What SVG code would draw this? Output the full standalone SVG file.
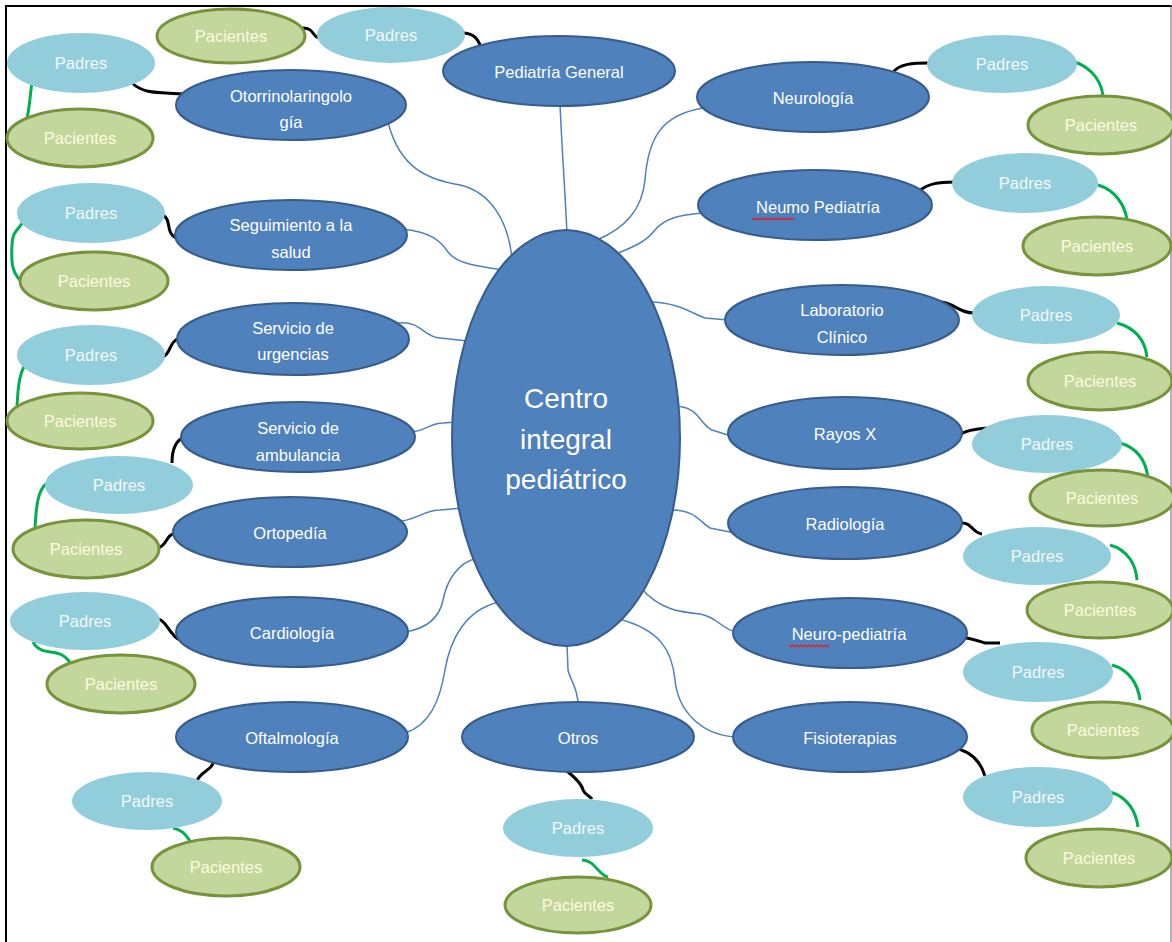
<svg xmlns="http://www.w3.org/2000/svg" width="1172" height="942" viewBox="0 0 1172 942">
<defs>
<style>
.svc{fill:#4F81BD;stroke:#385D8A;stroke-width:2}
.pad{fill:#92CDDC;stroke:none}
.pac{fill:#C3D69B;stroke:#77933C;stroke-width:3}
.t{font-family:"Liberation Sans",Arial,sans-serif;text-anchor:middle}
.ts{font-size:16.5px;fill:#FFFFFF}
.tp{font-size:16.5px;fill:#F4F8F8}
.tc{font-size:16.5px;fill:#FCFBE0}
.tm{font-size:28px;fill:#FFFFFF}
.cb{fill:none;stroke:#4F81BD;stroke-width:1.5}
.ck{fill:none;stroke:#000000;stroke-width:3}
.cg{fill:none;stroke:#00B050;stroke-width:3}
.sp{fill:none;stroke:#E02020;stroke-width:1.2}
</style>
</defs>
<rect x="0" y="0" width="1172" height="942" fill="#FFFFFF"/>
<g id="frame">
<line x1="5" y1="6" x2="1172" y2="6" stroke="#000" stroke-width="2"/>
<line x1="6" y1="5" x2="6" y2="942" stroke="#000" stroke-width="2"/>
<line x1="1171" y1="5" x2="1171" y2="942" stroke="#666" stroke-width="1"/>
</g>
<g id="connectors">
<path class="cb" d="M560,104 C562,150 565,190 567,234"/>
<path class="cb" d="M388,122 C400,170 430,180 460,185 C490,192 508,220 512,258"/>
<path class="cb" d="M402,229 C430,232 440,240 448,252 C458,265 480,266 503,270"/>
<path class="cb" d="M398,323 C420,320 425,338 440,338 L468,341"/>
<path class="cb" d="M412,432 C428,430 430,423 443,423 L457,422"/>
<path class="cb" d="M402,521 C420,518 425,510 440,510 L463,508"/>
<path class="cb" d="M405,632 C430,628 440,615 443,600 C447,580 458,562 478,558"/>
<path class="cb" d="M405,733 C430,725 440,700 445,670 C450,640 465,610 499,602"/>
<path class="cb" d="M578,704 C578,688 570,680 568,670 L567,644"/>
<path class="cb" d="M703,108 C660,115 648,140 645,180 C642,210 625,228 597,240"/>
<path class="cb" d="M702,213 C680,215 665,218 655,230 C645,243 630,248 616,254"/>
<path class="cb" d="M650,302 C675,302 690,312 705,318 L728,320"/>
<path class="cb" d="M677,406 C700,408 700,425 712,430 L731,436"/>
<path class="cb" d="M672,510 C695,510 700,522 710,528 L735,533"/>
<path class="cb" d="M641,588 C660,610 680,612 700,614 C718,617 722,630 737,632"/>
<path class="cb" d="M619,619 C660,630 672,650 675,680 C678,710 700,735 736,737"/>
<path class="ck" d="M462,33 C475,33 478,40 481,47"/>
<path class="ck" d="M303,28 C315,28 312,38 320,38"/>
<path class="ck" d="M132,83 C145,95 160,92 185,94"/>
<path class="ck" d="M163,215 C172,220 165,232 176,238"/>
<path class="ck" d="M163,357 C172,352 168,343 179,338"/>
<path class="ck" d="M172,463 C172,450 175,440 185,437"/>
<path class="ck" d="M158,548 C168,545 165,535 176,533"/>
<path class="ck" d="M153,618 C165,618 168,630 172,633 C175,638 178,640 184,641"/>
<path class="ck" d="M214,760 C212,772 200,770 196,783"/>
<path class="ck" d="M567,771 C578,780 582,785 583,790 C585,795 590,796 592,799"/>
<path class="ck" d="M892,74 C898,63 915,63 929,63"/>
<path class="ck" d="M918,192 C928,183 940,182 954,182"/>
<path class="ck" d="M941,302 C955,303 958,313 974,313"/>
<path class="ck" d="M954,438 C965,430 975,429 989,428"/>
<path class="ck" d="M961,523 C972,522 972,533 982,534"/>
<path class="ck" d="M955,638 C965,636 975,640 985,643 L1000,643"/>
<path class="ck" d="M952,748 C970,750 980,760 985,776"/>
<path class="cg" d="M32,82 C30,95 30,105 27,118"/>
<path class="cg" d="M23,222 C18,230 12,232 12,245 C11,262 12,272 20,280"/>
<path class="cg" d="M28,362 C20,368 18,385 17,407"/>
<path class="cg" d="M47,483 C38,490 36,505 35,530"/>
<path class="cg" d="M33,642 C40,655 55,650 62,655 C66,657 68,660 70,662"/>
<path class="cg" d="M173,828 C185,830 188,840 192,843 C195,846 198,847 202,847"/>
<path class="cg" d="M582,860 C595,860 598,875 608,877"/>
<path class="cg" d="M1075,62 C1092,68 1102,82 1103,97"/>
<path class="cg" d="M1098,185 C1115,190 1125,205 1127,220"/>
<path class="cg" d="M1117,323 C1135,328 1145,340 1147,357"/>
<path class="cg" d="M1120,443 C1138,448 1146,462 1148,478"/>
<path class="cg" d="M1110,545 C1128,550 1136,565 1137,580"/>
<path class="cg" d="M1112,665 C1130,670 1138,685 1140,700"/>
<path class="cg" d="M1110,792 C1128,797 1136,812 1138,827"/>
</g>
<g id="centro">
<ellipse class="svc" cx="566" cy="438" rx="114" ry="208"/>
<text class="t tm" x="566" y="408">Centro</text>
<text class="t tm" x="566" y="449">integral</text>
<text class="t tm" x="566" y="489">pediátrico</text>
</g>
<g id="pediatria-general"><ellipse class="svc" cx="559" cy="71" rx="116" ry="35"/><text class="t ts" x="559" y="78">Pediatría General</text></g>
<g id="otorrino"><ellipse class="svc" cx="291" cy="105" rx="115" ry="35"/><text class="t ts" x="291" y="102">Otorrinolaringolo</text><text class="t ts" x="291" y="128">gía</text></g>
<g id="seguimiento"><ellipse class="svc" cx="291" cy="235" rx="116" ry="35"/><text class="t ts" x="291" y="231">Seguimiento  a la</text><text class="t ts" x="291" y="258">salud</text></g>
<g id="urgencias"><ellipse class="svc" cx="293" cy="339" rx="116" ry="36"/><text class="t ts" x="293" y="334">Servicio de</text><text class="t ts" x="293" y="360">urgencias</text></g>
<g id="ambulancia"><ellipse class="svc" cx="298" cy="437" rx="117" ry="35"/><text class="t ts" x="298" y="434">Servicio de</text><text class="t ts" x="298" y="461">ambulancia</text></g>
<g id="ortopedia"><ellipse class="svc" cx="290" cy="532" rx="117" ry="35"/><text class="t ts" x="290" y="539">Ortopedía</text></g>
<g id="cardiologia"><ellipse class="svc" cx="292" cy="632" rx="116" ry="35"/><text class="t ts" x="292" y="639">Cardiología</text></g>
<g id="oftalmologia"><ellipse class="svc" cx="292" cy="737" rx="116" ry="35"/><text class="t ts" x="292" y="744">Oftalmología</text></g>
<g id="otros"><ellipse class="svc" cx="578" cy="737" rx="116" ry="35"/><text class="t ts" x="578" y="744">Otros</text></g>
<g id="neurologia"><ellipse class="svc" cx="813" cy="97" rx="116" ry="35"/><text class="t ts" x="813" y="104">Neurología</text></g>
<g id="neumo"><ellipse class="svc" cx="815" cy="205" rx="117" ry="35"/><text class="t ts" x="818" y="213">Neumo  Pediatría</text><path class="sp" d="M752,218 l2,2 l2,-2 l2,2 l2,-2 l2,2 l2,-2 l2,2 l2,-2 l2,2 l2,-2 l2,2 l2,-2 l2,2 l2,-2 l2,2 l2,-2 l2,2 l2,-2 l2,2 l2,-2 l2,2"/></g>
<g id="laboratorio"><ellipse class="svc" cx="842" cy="320" rx="117" ry="35"/><text class="t ts" x="842" y="316">Laboratorio</text><text class="t ts" x="842" y="343">Clínico</text></g>
<g id="rayos"><ellipse class="svc" cx="845" cy="433" rx="117" ry="36"/><text class="t ts" x="845" y="440">Rayos X</text></g>
<g id="radiologia"><ellipse class="svc" cx="845" cy="523" rx="117" ry="36"/><text class="t ts" x="845" y="530">Radiología</text></g>
<g id="neuropediatria"><ellipse class="svc" cx="850" cy="633" rx="117" ry="35"/><text class="t ts" x="849" y="640">Neuro-pediatría</text><path class="sp" d="M789,645 l2,2 l2,-2 l2,2 l2,-2 l2,2 l2,-2 l2,2 l2,-2 l2,2 l2,-2 l2,2 l2,-2 l2,2 l2,-2 l2,2 l2,-2 l2,2 l2,-2 l2,2 l2,-2"/></g>
<g id="fisioterapias"><ellipse class="svc" cx="850" cy="737" rx="117" ry="35"/><text class="t ts" x="850" y="744">Fisioterapias</text></g>
<g id="padres-pg"><ellipse class="pad" cx="391" cy="35" rx="74" ry="28"/><text class="t tp" x="391" y="41">Padres</text></g>
<g id="pacientes-pg"><ellipse class="pac" cx="231" cy="36" rx="74" ry="27"/><text class="t tc" x="231" y="42">Pacientes</text></g>
<g id="padres-oto"><ellipse class="pad" cx="81" cy="63" rx="74" ry="30"/><text class="t tp" x="81" y="69">Padres</text></g>
<g id="pacientes-oto"><ellipse class="pac" cx="80" cy="138" rx="73" ry="29"/><text class="t tc" x="80" y="144">Pacientes</text></g>
<g id="padres-seg"><ellipse class="pad" cx="91" cy="213" rx="74" ry="30"/><text class="t tp" x="91" y="219">Padres</text></g>
<g id="pacientes-seg"><ellipse class="pac" cx="94" cy="281" rx="74" ry="29"/><text class="t tc" x="94" y="287">Pacientes</text></g>
<g id="padres-urg"><ellipse class="pad" cx="91" cy="355" rx="74" ry="30"/><text class="t tp" x="91" y="361">Padres</text></g>
<g id="pacientes-urg"><ellipse class="pac" cx="80" cy="421" rx="73" ry="28"/><text class="t tc" x="80" y="427">Pacientes</text></g>
<g id="padres-amb"><ellipse class="pad" cx="119" cy="485" rx="74" ry="29"/><text class="t tp" x="119" y="491">Padres</text></g>
<g id="pacientes-amb"><ellipse class="pac" cx="86" cy="549" rx="73" ry="29"/><text class="t tc" x="86" y="555">Pacientes</text></g>
<g id="padres-car"><ellipse class="pad" cx="85" cy="621" rx="75" ry="29"/><text class="t tp" x="85" y="627">Padres</text></g>
<g id="pacientes-car"><ellipse class="pac" cx="121" cy="684" rx="74" ry="29"/><text class="t tc" x="121" y="690">Pacientes</text></g>
<g id="padres-oft"><ellipse class="pad" cx="147" cy="801" rx="75" ry="29"/><text class="t tp" x="147" y="807">Padres</text></g>
<g id="pacientes-oft"><ellipse class="pac" cx="226" cy="867" rx="74" ry="29"/><text class="t tc" x="226" y="873">Pacientes</text></g>
<g id="padres-otr"><ellipse class="pad" cx="578" cy="828" rx="75" ry="29"/><text class="t tp" x="578" y="834">Padres</text></g>
<g id="pacientes-otr"><ellipse class="pac" cx="578" cy="905" rx="73" ry="28"/><text class="t tc" x="578" y="911">Pacientes</text></g>
<g id="padres-neu"><ellipse class="pad" cx="1002" cy="64" rx="75" ry="29"/><text class="t tp" x="1002" y="70">Padres</text></g>
<g id="pacientes-neu"><ellipse class="pac" cx="1101" cy="125" rx="73" ry="29"/><text class="t tc" x="1101" y="131">Pacientes</text></g>
<g id="padres-nmo"><ellipse class="pad" cx="1025" cy="183" rx="73" ry="30"/><text class="t tp" x="1025" y="189">Padres</text></g>
<g id="pacientes-nmo"><ellipse class="pac" cx="1097" cy="246" rx="74" ry="29"/><text class="t tc" x="1097" y="252">Pacientes</text></g>
<g id="padres-lab"><ellipse class="pad" cx="1046" cy="315" rx="74" ry="29"/><text class="t tp" x="1046" y="321">Padres</text></g>
<g id="pacientes-lab"><ellipse class="pac" cx="1100" cy="381" rx="72" ry="29"/><text class="t tc" x="1100" y="387">Pacientes</text></g>
<g id="padres-ray"><ellipse class="pad" cx="1047" cy="444" rx="75" ry="29"/><text class="t tp" x="1047" y="450">Padres</text></g>
<g id="pacientes-ray"><ellipse class="pac" cx="1102" cy="498" rx="72" ry="28"/><text class="t tc" x="1102" y="504">Pacientes</text></g>
<g id="padres-rad"><ellipse class="pad" cx="1037" cy="556" rx="74" ry="29"/><text class="t tp" x="1037" y="562">Padres</text></g>
<g id="pacientes-rad"><ellipse class="pac" cx="1100" cy="610" rx="73" ry="28"/><text class="t tc" x="1100" y="616">Pacientes</text></g>
<g id="padres-npd"><ellipse class="pad" cx="1038" cy="672" rx="75" ry="30"/><text class="t tp" x="1038" y="678">Padres</text></g>
<g id="pacientes-npd"><ellipse class="pac" cx="1103" cy="730" rx="71" ry="28"/><text class="t tc" x="1103" y="736">Pacientes</text></g>
<g id="padres-fis"><ellipse class="pad" cx="1038" cy="797" rx="75" ry="30"/><text class="t tp" x="1038" y="803">Padres</text></g>
<g id="pacientes-fis"><ellipse class="pac" cx="1099" cy="858" rx="73" ry="29"/><text class="t tc" x="1099" y="864">Pacientes</text></g>
</svg>
